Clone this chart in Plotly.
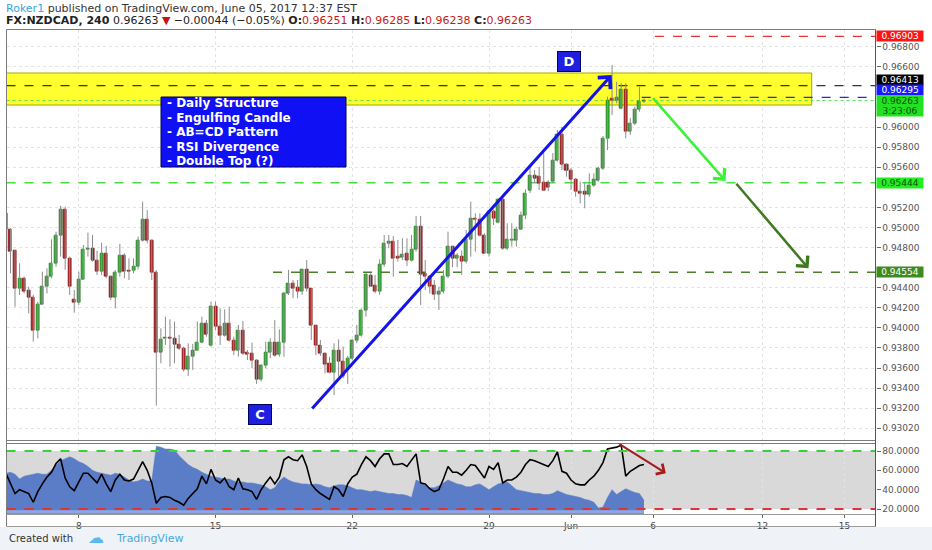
import plotly.graph_objects as go

W, H = 932, 550
def PX(x): return x / W
def PY(y): return 1 - y / H

FONT = "DejaVu Sans"

# ---------------- data (bar index 0 = Mon May 8, 4h bars, weekends skipped) --------------
bars = list(range(-16, 125))
opens = [0.95141,0.94975,0.94766,0.94394,0.94487,0.94377,0.94304,0.93972,0.94238,0.94417,0.94510,0.94643,0.94925,0.95181,0.94693,0.94278,
         0.94251,0.94484,0.94776,0.94793,0.94676,0.94560,0.94736,0.94510,0.94304,0.94553,0.94719,0.94570,0.94570,0.94610,0.94869,0.95075,
         0.94866,0.94553,0.93754,0.93893,0.93906,0.93896,0.93830,0.93797,0.93588,0.93714,0.93780,0.93857,0.94039,0.93823,0.94218,0.94012,
         0.93923,0.94039,0.93873,0.93780,0.93979,0.93754,0.93741,0.93674,0.93482,0.93625,0.93754,0.93853,0.93731,0.93857,0.94344,0.94444,
         0.94401,0.94367,0.94577,0.94388,0.94022,0.93823,0.93741,0.93641,0.93558,0.93780,0.93664,0.93581,0.93698,0.93870,0.93923,0.94178,
         0.94517,0.94427,0.94361,0.94627,0.94836,0.94856,0.94710,0.94703,0.94736,0.94676,0.94776,0.95008,0.94537,0.94510,0.94427,0.94328,
         0.94367,0.94510,0.94809,0.94693,0.94710,0.94660,0.94876,0.95091,0.95075,0.94925,0.94743,0.95158,0.95048,0.95274,0.94793,0.94869,
         0.94869,0.94982,0.95124,0.95373,0.95522,0.95505,0.95446,0.95443,0.95456,0.95665,0.95921,0.95622,0.95565,0.95473,0.95356,0.95356,
         0.95333,0.95413,0.95466,0.95589,0.95888,0.96286,0.96269,0.96187,0.96376,0.95954,0.96037,0.96177,0.96251]
highs = [0.95158,0.94992,0.94776,0.94643,0.94510,0.94411,0.94328,0.94261,0.94560,0.94593,0.94882,0.94958,0.95214,0.95207,0.94710,0.94377,
         0.94560,0.94826,0.94949,0.94925,0.94769,0.94849,0.94816,0.94517,0.94577,0.94836,0.94743,0.94693,0.94693,0.94909,0.95257,0.95174,
         0.94882,0.94577,0.93996,0.94112,0.94086,0.94062,0.93930,0.93814,0.93847,0.93840,0.94062,0.94112,0.94079,0.94261,0.94261,0.94195,
         0.94185,0.94211,0.93913,0.94029,0.94069,0.93780,0.93853,0.93688,0.93641,0.93863,0.93896,0.94079,0.93986,0.94361,0.94577,0.94477,
         0.94477,0.94583,0.94676,0.94394,0.94029,0.93880,0.93754,0.93714,0.93847,0.93886,0.93814,0.93721,0.93886,0.94029,0.94195,0.94543,
         0.94543,0.94527,0.94683,0.94925,0.94925,0.94915,0.94876,0.94892,0.94892,0.94925,0.95115,0.95115,0.94676,0.94527,0.94477,0.94411,
         0.94577,0.94958,0.94816,0.94743,0.94769,0.94975,0.95257,0.95141,0.95141,0.94942,0.95174,0.95181,0.95290,0.95290,0.95042,0.95042,
         0.95008,0.95158,0.95380,0.95602,0.95572,0.95605,0.95741,0.95470,0.95741,0.95971,0.96003,0.95640,0.95589,0.95493,0.95456,0.95440,
         0.95539,0.95539,0.95605,0.95911,0.96302,0.96618,0.96451,0.96436,0.96436,0.96090,0.96203,0.96402,0.96285]
lows = [0.94958,0.94543,0.94211,0.94328,0.94344,0.94145,0.93863,0.93896,0.94228,0.94344,0.94494,0.94610,0.94710,0.94577,0.94328,0.94152,
        0.94228,0.94477,0.94710,0.94660,0.94527,0.94527,0.94494,0.94278,0.94195,0.94510,0.94494,0.94477,0.94543,0.94583,0.94859,0.94842,
        0.94477,0.93226,0.93648,0.93830,0.93615,0.93648,0.93780,0.93565,0.93522,0.93582,0.93780,0.93847,0.93913,0.93814,0.93979,0.93830,
        0.93913,0.93863,0.93731,0.93714,0.93731,0.93681,0.93598,0.93442,0.93466,0.93598,0.93698,0.93714,0.93714,0.93714,0.94328,0.94295,
        0.94295,0.94328,0.94361,0.93880,0.93731,0.93721,0.93548,0.93548,0.93332,0.93515,0.93498,0.93442,0.93681,0.93847,0.93913,0.94112,
        0.94411,0.94344,0.94328,0.94610,0.94793,0.94510,0.94660,0.94676,0.94617,0.94660,0.94759,0.94228,0.94377,0.94344,0.94278,0.94178,
        0.94344,0.94494,0.94603,0.94603,0.94527,0.94643,0.94710,0.94759,0.94909,0.94736,0.94710,0.95025,0.95042,0.94776,0.94776,0.94809,
        0.94809,0.94975,0.95081,0.95343,0.95442,0.95373,0.95370,0.95360,0.95443,0.95655,0.95572,0.95505,0.95373,0.95306,0.95240,0.95191,
        0.95306,0.95406,0.95456,0.95572,0.95771,0.96120,0.96236,0.96177,0.95888,0.95921,0.96020,0.96153,0.96238]
closes = [0.94975,0.94759,0.94394,0.94487,0.94367,0.94304,0.93972,0.94238,0.94417,0.94510,0.94643,0.94925,0.95181,0.94693,0.94411,0.94251,
          0.94484,0.94782,0.94793,0.94676,0.94560,0.94736,0.94510,0.94304,0.94553,0.94719,0.94560,0.94560,0.94610,0.94869,0.95075,0.94866,
          0.94553,0.93754,0.93886,0.93906,0.93896,0.93830,0.93797,0.93588,0.93714,0.93780,0.93857,0.94039,0.93930,0.94218,0.94012,0.93923,
          0.94039,0.93873,0.93780,0.93979,0.93747,0.93734,0.93674,0.93482,0.93625,0.93754,0.93853,0.93724,0.93857,0.94344,0.94444,0.94394,
          0.94367,0.94577,0.94388,0.94022,0.93823,0.93741,0.93631,0.93558,0.93780,0.93664,0.93515,0.93698,0.93870,0.93923,0.94178,0.94527,
          0.94417,0.94361,0.94627,0.94836,0.94856,0.94693,0.94693,0.94726,0.94676,0.94776,0.95008,0.94527,0.94510,0.94411,0.94328,0.94367,
          0.94510,0.94809,0.94693,0.94716,0.94660,0.94876,0.95091,0.95075,0.94925,0.94743,0.95158,0.95091,0.95274,0.94793,0.94882,0.94882,
          0.94982,0.95124,0.95340,0.95522,0.95492,0.95440,0.95373,0.95393,0.95665,0.95921,0.95622,0.95565,0.95473,0.95356,0.95340,0.95333,
          0.95413,0.95473,0.95589,0.95888,0.96269,0.96269,0.96292,0.96376,0.95954,0.96037,0.96177,0.96252,0.96263]

rsi = [57,46,36,40,38,36,27,38,46,53,58,67,72,52,43,39,
       48,57,57,52,47,56,46,38,50,56,50,49,51,60,69,60,
       47,26,32,33,32,29,27,24,31,36,41,54,46,61,50,47,
       52,43,40,52,41,40,38,30,40,47,53,46,53,71,74,71,
       70,76,64,46,40,36,33,30,43,40,33,46,53,56,66,74,
       70,64,72,77,77,66,66,67,64,70,77,47,46,41,38,40,
       51,64,58,58,55,60,66,65,58,52,64,61,68,47,50,50,
       53,58,66,71,70,68,66,64,70,79,59,57,50,46,45,45,
       50,54,60,68,82,83,84,86,54,59,62,65,66]
blue_area = [57,58,56,51,54,55,56,57,56,56,60,65,70,72,74,72,
             69,67,64,60,58,57,56,55,57,56,53,50,48,49,51,49,
             49,85,84,82,82,81,75,70,66,63,61,58,56,54,53,52,
             51,51,49,48,48,47,47,46,45,43,40,42,49,53,50,48,
             47,46,46,45,46,45,43,42,44,45,45,44,42,40,40,39,
             38,39,38,37,36,36,35,35,34,32,50,48,45,42,42,44,
             47,50,48,46,45,43,43,45,46,43,40,43,46,47,48,44,
             40,39,38,37,36,36,35,35,36,39,37,35,34,33,32,30,
             29,27,21,22,32,40,35,38,41,39,37,36,29]

day_ticks = [0, 30, 60, 90, 108, 126, 150, 168]
day_labels = ["8", "15", "22", "29", "Jun", "6", "12", "15"]
price_ticks = [0.930, 0.932, 0.934, 0.936, 0.938, 0.940, 0.942, 0.944, 0.948, 0.950,
               0.952, 0.956, 0.958, 0.960, 0.966, 0.968]
price_labels = ["0.93020"] + ["%.5f" % v for v in price_ticks[1:]]
rsi_ticks = [20, 40, 60, 80]
rsi_labels = ["20.0000", "40.0000", "60.0000", "80.0000"]

info_lines = ["- Daily Structure", "- Engulfing Candle", "- AB=CD Pattern", "- RSI Divergence", "- Double Top (?)"]

# levels
lvl_red, lvl_black, lvl_blue, lvl_last = 0.96903, 0.96413, 0.96295, 0.96263
lvl_green1, lvl_green2 = 0.95444, 0.94554
zone_top, zone_bot = 0.96538, 0.96219

# drawing points
ab_start, ab_end = (50.9, 0.93182), (116.9, 0.96518)
g1_start, g1_end = (125.7, 0.96302), (141.9, 0.95463)
g2_start, g2_end = (144.0, 0.95450), (160.1, 0.94593)
rsi_arrow = ((118.3, 88.0), (128.8, 57.0))

XMIN, XMAX = -15.87, 174.8
YMIN, YMAX = 0.92874, 0.96971

# ---------------- traces ----------------
fig = go.Figure()

wx, wy = [], []
for i, hi, lo in zip(bars, highs, lows):
    wx += [i, i, None]
    wy += [lo, hi, None]
fig.add_trace(go.Scatter(x=wx, y=wy, mode="lines", line=dict(color="#8c8c8c", width=1),
                         hoverinfo="skip", xaxis="x", yaxis="y"))

base = [min(o, c) for o, c in zip(opens, closes)]
hgt = [max(abs(c - o), 0.000025) for o, c in zip(opens, closes)]
fill = ["#34b234" if c >= o else "#b81d1d" for o, c in zip(opens, closes)]
edge = ["#1c6e1c" if c >= o else "#7a1010" for o, c in zip(opens, closes)]
fig.add_trace(go.Bar(x=bars, y=hgt, base=base, width=0.66,
                     marker=dict(color=fill, line=dict(color=edge, width=0.7)),
                     hoverinfo="skip", xaxis="x", yaxis="y"))

fig.add_trace(go.Scatter(x=bars, y=blue_area, mode="lines", fill="tozeroy",
                         line=dict(color="#5b7cc6", width=0.5), fillcolor="#5b7cc6",
                         hoverinfo="skip", xaxis="x", yaxis="y2"))
fig.add_trace(go.Scatter(x=bars, y=rsi, mode="lines", line=dict(color="#000000", width=1.6),
                         hoverinfo="skip", xaxis="x", yaxis="y2"))

# ---------------- shapes ----------------
shapes = []
shapes.append(dict(type="rect", xref="x", yref="y", x0=XMIN, x1=160.8, y0=zone_bot, y1=zone_top,
                   fillcolor="#ffff2e", line=dict(color="#a8a800", width=1), layer="between"))
def hline(y, x0, x1, color, dash, width=1.2, yref="y"):
    shapes.append(dict(type="line", xref="x", yref=yref, x0=x0, x1=x1, y0=y, y1=y,
                       line=dict(color=color, dash=dash, width=width), layer="between"))
hline(lvl_black, XMIN, XMAX, "#333333", "dash", 1.3)
hline(lvl_blue, 123.5, XMAX, "#2a2ad8", "dash", 1.3)
hline(lvl_last, XMIN, XMAX, "#55dd55", "dot", 1)
hline(lvl_red, 126.4, XMAX, "#ee3333", "dash", 1.2)
hline(lvl_green1, XMIN, XMAX, "#44dd44", "dash", 1.5)
hline(lvl_green2, 42.6, XMAX, "#4b7d2b", "dash", 1.5)

shapes.append(dict(type="rect", xref="x", yref="y2", x0=XMIN, x1=XMAX, y0=20, y1=80,
                   fillcolor="#d9d9d9", line=dict(width=0), layer="below"))
shapes.append(dict(type="rect", xref="x", yref="y2", x0=bars[0], x1=bars[-1], y0=15.3, y1=18.6,
                   fillcolor="#8ea8e6", line=dict(width=0), layer="above"))
shapes.append(dict(type="line", xref="x", yref="y2", x0=XMIN, x1=XMAX, y0=80, y1=80,
                   line=dict(color="#3ad13a", dash="dash", width=2), layer="above"))
shapes.append(dict(type="line", xref="x", yref="y2", x0=XMIN, x1=XMAX, y0=20, y1=20,
                   line=dict(color="#dd3535", dash="dash", width=2), layer="above"))

FR = "#7d7d7d"
def pline(x0, y0, x1, y1, color=FR, width=1):
    shapes.append(dict(type="line", xref="paper", yref="paper", x0=PX(x0), y0=PY(y0),
                       x1=PX(x1), y1=PY(y1), line=dict(color=color, width=width), layer="above"))
pline(6.5, 29.5, 875.5, 29.5)
pline(6.5, 29.5, 6.5, 526.5)
pline(6.5, 440.5, 875.5, 440.5)
pline(6.5, 443.5, 875.5, 443.5)
pline(6.5, 514.5, 875.5, 514.5, "#9a9a9a")
pline(6.5, 526.5, 875.5, 526.5, "#9a9a9a")
pline(875.5, 29.5, 875.5, 526.5, "#555555")
shapes.append(dict(type="rect", xref="paper", yref="paper", x0=0, x1=1, y0=0, y1=PY(527),
                   fillcolor="#eff2f6", line=dict(width=0), layer="below"))
shapes.append(dict(type="rect", xref="paper", yref="paper", x0=PX(161), x1=PX(346),
                   y0=PY(167), y1=PY(97), fillcolor="#1010f5", line=dict(color="#00005a", width=1),
                   layer="above"))

# ---------------- annotations ----------------
ann = []
ann.append(dict(xref="paper", yref="paper", x=PX(4), y=PY(8.5), xanchor="left", yanchor="middle",
                showarrow=False, font=dict(family=FONT, size=11, color="#333333"),
                text="<span style='color:#3aa6dc'>Roker1</span> published on TradingView.com, June 05, 2017 12:37 EST"))
ann.append(dict(xref="paper", yref="paper", x=PX(4), y=PY(20.5), xanchor="left", yanchor="middle",
                showarrow=False, font=dict(family=FONT, size=11, color="#222222"),
                text="<b>FX:NZDCAD, 240</b> 0.96263 <span style='color:#cc1111'>▼</span> −0.00044 (−0.05%) "
                     "<b>O:</b><span style='color:#c41a1a'>0.96251</span> <b>H:</b><span style='color:#c41a1a'>0.96285</span> "
                     "<b>L:</b><span style='color:#c41a1a'>0.96238</span> <b>C:</b><span style='color:#c41a1a'>0.96263</span>"))

for k, t in enumerate(info_lines):
    ann.append(dict(xref="paper", yref="paper", x=PX(165), y=PY(103 + 14.5 * k), xanchor="left",
                    yanchor="middle", showarrow=False, text="<b>" + t + "</b>",
                    font=dict(family=FONT, size=12, color="white")))

for lbl, xv, yv in [("C", 39.7, 0.93138), ("D", 107.5, 0.96648)]:
    ann.append(dict(xref="x", yref="y", x=xv, y=yv, showarrow=False, text="<b>" + lbl + "</b>",
                    font=dict(family=FONT, size=13, color="white"), bgcolor="#1f1fe0",
                    bordercolor="#000060", borderwidth=1, borderpad=2, width=18))

def arrow(p0, p1, color, width, yref="y", size=1.0):
    ann.append(dict(xref="x", yref=yref, axref="x", ayref=yref, x=p1[0], y=p1[1], ax=p0[0], ay=p0[1],
                    text="", showarrow=True, arrowhead=4, arrowsize=size, arrowwidth=width,
                    arrowcolor=color))
arrow(ab_start, ab_end, "#1414e6", 3, size=1.1)
arrow(g1_start, g1_end, "#39f239", 2.5, size=1.2)
arrow(g2_start, g2_end, "#3e7a1e", 2.5, size=1.2)
arrow(rsi_arrow[0], rsi_arrow[1], "#a51c1c", 2, yref="y2", size=1.2)

def tag(y, text, bg, fg, yshift=0):
    ann.append(dict(xref="paper", yref="y", x=PX(876), y=y, xanchor="left", yanchor="middle",
                    showarrow=False, text=text, bgcolor=bg, yshift=yshift, width=46, height=10,
                    borderpad=0, font=dict(family=FONT, size=9, color=fg)))
tag(lvl_red, "0.96903", "#ff1414", "white")
tag(lvl_black, "0.96413", "#000000", "white", 5.8)
tag(lvl_blue, "0.96295", "#1a1aff", "white", 7.2)
tag(lvl_last, "0.96263", "#22e022", "#0a4f0a", 0)
tag(lvl_last, "3:23:06", "#22e022", "#0a4f0a", -10.5)
tag(lvl_green1, "0.95444", "#22ee22", "#0a4f0a")
tag(lvl_green2, "0.94554", "#3f8a1f", "white")

ann.append(dict(xref="paper", yref="paper", x=PX(7), y=PY(538.5), xanchor="left", yanchor="middle",
                showarrow=False, text="Created with", font=dict(family=FONT, size=10, color="#333333")))
ann.append(dict(xref="paper", yref="paper", x=PX(86), y=PY(537.5), xanchor="left", yanchor="middle",
                showarrow=False, text="☁", font=dict(family=FONT, size=16, color="#5cb8ea")))
ann.append(dict(xref="paper", yref="paper", x=PX(114), y=PY(538.5), xanchor="left", yanchor="middle",
                showarrow=False, text="TradingView", font=dict(family=FONT, size=11, color="#49a9dd")))

grid = dict(showgrid=True, gridcolor="#e3e3e3", griddash="dot", gridwidth=1)
fig.update_layout(
    width=W, height=H, margin=dict(l=0, r=0, t=0, b=0),
    paper_bgcolor="white", plot_bgcolor="white", showlegend=False, hovermode=False,
    bargap=0,
    xaxis=dict(domain=[PX(6.5), PX(875.5)], range=[XMIN, XMAX], anchor="y2",
               tickvals=day_ticks, ticktext=day_labels, ticks="outside", ticklen=3, tickcolor="#666",
               tickfont=dict(family=FONT, size=9, color="#444"), zeroline=False, showline=False, **grid),
    yaxis=dict(domain=[PY(441), PY(29.5)], range=[YMIN, YMAX], side="right", anchor="x",
               tickvals=price_ticks, ticktext=price_labels, ticks="outside", ticklen=4, tickcolor="#666",
               tickfont=dict(family=FONT, size=9, color="#555"), zeroline=False, **grid),
    yaxis2=dict(domain=[PY(514), PY(443)], range=[14.85, 88.27], side="right", anchor="x",
                tickvals=rsi_ticks, ticktext=rsi_labels, ticks="outside", ticklen=4, tickcolor="#666",
                tickfont=dict(family=FONT, size=9, color="#555"), zeroline=False, showgrid=False),
    shapes=shapes, annotations=ann,
)
fig.write_html("out.html", config={"displayModeBar": False},
               post_script="document.body.style.margin='0px';document.body.style.overflow='hidden';")
